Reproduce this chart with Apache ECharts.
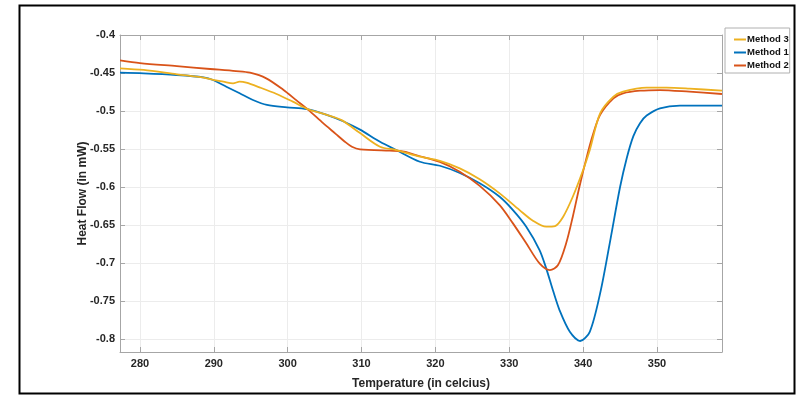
<!DOCTYPE html>
<html>
<head>
<meta charset="utf-8">
<script src="https://cdn.jsdelivr.net/npm/echarts@6/dist/echarts.min.js"></script>
<style>
  html, body { margin: 0; padding: 0; background: #fff; }
  #chart { width: 796px; height: 395px; }
</style>
</head>
<body>
<div id="chart"></div>
<script>
// Values
const xTicks = [280, 290, 300, 310, 320, 330, 340, 350];
const yTicks = [-0.8, -0.75, -0.7, -0.65, -0.6, -0.55, -0.5, -0.45, -0.4];

const m1Temp = [277.3, 280.5, 285, 288.6, 289.9, 291.7, 293.5, 295.3, 297.2, 299.9, 302.6, 305.3, 307.5, 309.8, 312.5, 314.7, 317.9, 320.6, 323.3, 326, 328.7, 330.5, 332.3, 334.1, 335, 335.9, 336.8, 338.2, 339.6, 340.9, 342.3, 343.6, 345, 345.9, 346.8, 347.7, 348.6, 350.4, 353.1, 358.8];
const m1Flow = [-0.4496, -0.4504, -0.4526, -0.4557, -0.4592, -0.468, -0.4767, -0.4855, -0.492, -0.4951, -0.4975, -0.505, -0.5135, -0.5245, -0.5404, -0.5513, -0.5667, -0.572, -0.5815, -0.595, -0.6128, -0.6303, -0.6522, -0.6829, -0.707, -0.7355, -0.7618, -0.7904, -0.8025, -0.7904, -0.7399, -0.674, -0.6, -0.562, -0.533, -0.516, -0.506, -0.4965, -0.493, -0.493];

const m2Temp = [277.3, 280, 285, 289.5, 293, 294.9, 297.1, 299.4, 301.2, 302.8, 304.8, 306.5, 307.7, 308.7, 309.8, 313.8, 315.2, 317.9, 320.6, 323.3, 326, 328.7, 330.5, 332.3, 334.1, 335.5, 336.6, 337.7, 338.6, 339.5, 340.5, 341.3, 342.3, 344.1, 345.4, 347.7, 350.4, 354.4, 358.8];
const m2Flow = [-0.4335, -0.437, -0.441, -0.4447, -0.4475, -0.4496, -0.457, -0.472, -0.486, -0.4985, -0.516, -0.53, -0.54, -0.547, -0.5505, -0.5522, -0.5526, -0.5595, -0.567, -0.5799, -0.5985, -0.6237, -0.6478, -0.674, -0.7004, -0.7092, -0.7026, -0.674, -0.639, -0.5996, -0.56, -0.532, -0.505, -0.4833, -0.4768, -0.4733, -0.4724, -0.4746, -0.4776];

const m3Temp = [277.3, 280.5, 285, 288.6, 289.9, 291.3, 292.6, 293.5, 294.4, 296.2, 298.5, 300.7, 302.8, 305.3, 307.3, 309.8, 312.5, 314.7, 317.9, 320.6, 323.3, 326, 328.7, 331.4, 333.2, 335, 336.2, 337.3, 338.6, 340, 340.9, 342.3, 344.1, 345.4, 348.6, 351.3, 354.4, 358.8];
const m3Flow = [-0.4438, -0.446, -0.4517, -0.456, -0.459, -0.4614, -0.4636, -0.4614, -0.4627, -0.4689, -0.4776, -0.4877, -0.4978, -0.505, -0.512, -0.529, -0.547, -0.5513, -0.5601, -0.5656, -0.5754, -0.5897, -0.6083, -0.6303, -0.6443, -0.6522, -0.6513, -0.639, -0.6128, -0.5776, -0.5513, -0.503, -0.4811, -0.4746, -0.4693, -0.4693, -0.4706, -0.4733];

const xMin = 277.3, xMax = 358.8;
const yMin = -0.817, yMax = -0.4;

const pairs = (xs, ys) => xs.map((x, i) => [x, ys[i]]);
const font = "Arial, 'Liberation Sans', Helvetica, sans-serif";
const labelColor = "#262626";
const axisColor = "#a6a6a6";

const chart = echarts.init(document.getElementById("chart"));

const baseX = {
  type: "value",
  min: xMin,
  max: xMax,
  axisLine: { show: true, onZero: false, lineStyle: { color: axisColor, width: 1 } },
  axisTick: { show: true, inside: true, length: 5, customValues: xTicks, lineStyle: { color: axisColor } },
  splitLine: { show: false },
};
const baseY = {
  type: "value",
  min: yMin,
  max: yMax,
  axisLine: { show: true, onZero: false, lineStyle: { color: axisColor, width: 1 } },
  axisTick: { show: true, inside: true, length: 5, customValues: yTicks, lineStyle: { color: axisColor } },
  splitLine: { show: false },
};

chart.setOption({
  animation: false,
  backgroundColor: "#fff",
  grid: { left: 120, right: 74, top: 35, bottom: 43 },
  graphic: [
    {
      type: "rect",
      left: 17, top: 3,
      shape: { width: 775, height: 388 },
      style: { fill: "none", stroke: "#000", lineWidth: 2 },
      silent: true,
    },
  ],
  legend: {
    orient: "vertical",
    left: 725,
    top: 28,
    data: ["Method 3", "Method 1", "Method 2"],
    icon: "rect",
    itemWidth: 12,
    itemHeight: 2,
    itemGap: 2,
    padding: [6, 1, 2, 9],
    borderColor: "#b0b0b0",
    borderWidth: 1,
    backgroundColor: "#fff",
    textStyle: { fontFamily: font, fontWeight: "bold", fontSize: 9.5, lineHeight: 11, color: "#111", padding: [0, 0, 0, -4] },
  },
  xAxis: [
    Object.assign({}, baseX, {
      position: "bottom",
      name: "Temperature (in celcius)",
      nameLocation: "middle",
      nameGap: 26,
      nameMoveOverlap: false,
      nameTextStyle: { fontFamily: font, fontWeight: "bold", fontSize: 12, color: labelColor },
      axisLabel: { customValues: xTicks, margin: 6, fontFamily: font, fontWeight: "bold", fontSize: 11, color: labelColor },
      splitLine: { show: true, lineStyle: { color: "#ececec", width: 1 } },
    }),
    Object.assign({}, baseX, { position: "top", axisLabel: { show: false } }),
  ],
  yAxis: [
    Object.assign({}, baseY, {
      position: "left",
      name: "Heat Flow (in mW)",
      nameLocation: "middle",
      nameGap: 31,
      nameMoveOverlap: false,
      nameTextStyle: { fontFamily: font, fontWeight: "bold", fontSize: 12, color: labelColor },
      axisLabel: { customValues: yTicks, margin: 5, fontFamily: font, fontWeight: "bold", fontSize: 11, color: labelColor },
      splitLine: { show: true, lineStyle: { color: "#ececec", width: 1 } },
    }),
    Object.assign({}, baseY, { position: "right", axisLabel: { show: false } }),
  ],
  series: [
    {
      name: "Method 1", type: "line", data: pairs(m1Temp, m1Flow),
      showSymbol: false, symbol: "none", smooth: 0.3,
      lineStyle: { color: "#0072BD", width: 1.8 }, itemStyle: { color: "#0072BD" },
    },
    {
      name: "Method 2", type: "line", data: pairs(m2Temp, m2Flow),
      showSymbol: false, symbol: "none", smooth: 0.3,
      lineStyle: { color: "#D95319", width: 1.8 }, itemStyle: { color: "#D95319" },
    },
    {
      name: "Method 3", type: "line", data: pairs(m3Temp, m3Flow),
      showSymbol: false, symbol: "none", smooth: 0.3,
      lineStyle: { color: "#EDB120", width: 1.8 }, itemStyle: { color: "#EDB120" },
    },
  ],
});
</script>
</body>
</html>
